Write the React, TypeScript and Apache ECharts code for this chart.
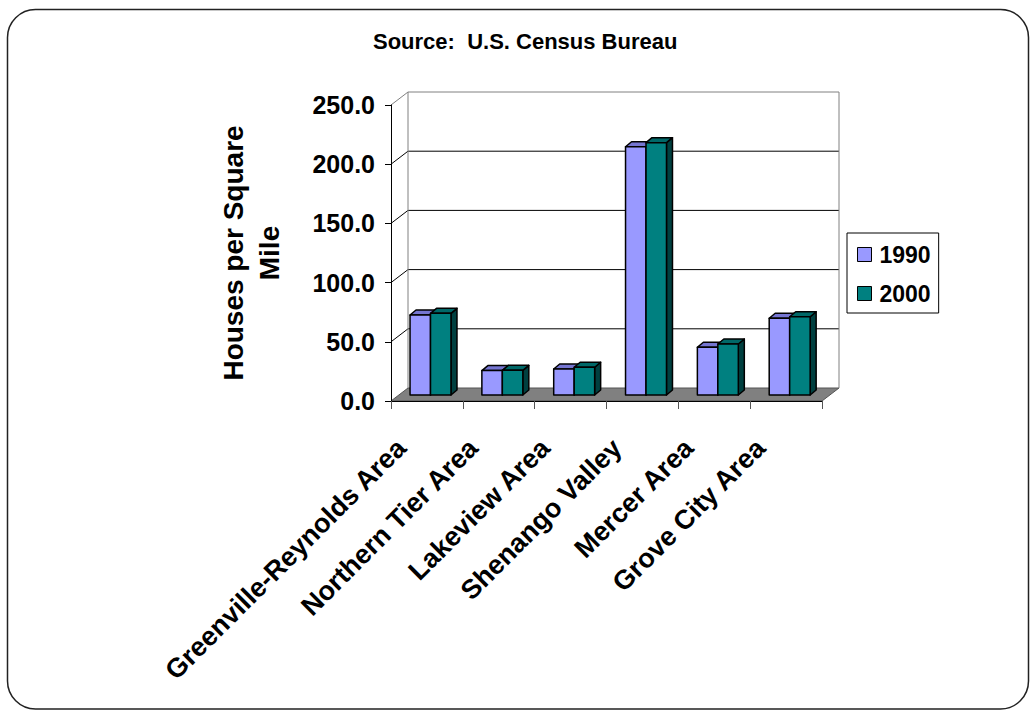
import React, { useEffect, useRef } from "react";
import * as echarts from "echarts";

// ---- data ----
const categories = [
  "Greenville-Reynolds Area",
  "Northern Tier Area",
  "Lakeview Area",
  "Shenango Valley",
  "Mercer Area",
  "Grove City Area",
];
const seriesNames = ["1990", "2000"];
const values1990 = [67.6, 20.6, 22.0, 209.7, 40.3, 64.8];
const values2000 = [69.0, 20.8, 23.4, 213.1, 43.1, 66.1];
const yTicks = [0, 50, 100, 150, 200, 250];
const titleText = "Source:  U.S. Census Bureau";
const yAxisTitle = "Houses per Square\nMile";

// ---- styling ----
const FONT = '"Liberation Sans", Arial, Helvetica, sans-serif';
const DX = 17; // depth offset of back wall
const DY = -13;
const BAR_SHIFT_Y = -6; // bars sit a little behind the front plane
const BAR_START = 0.265; // fraction of category width
const BAR_W = 0.285;
const BAR_DX = 6;
const BAR_DY = -5;
const faces = [
  { front: "#9999FF", top: "#7575D1", side: "#5F5FB0" },
  { front: "#008080", top: "#006868", side: "#004040" },
];
const yMin = yTicks[0];
const yMax = yTicks[yTicks.length - 1];
const yStep = yTicks[1] - yTicks[0];

function frameRenderItem(params: any, api: any) {
  const v = api.value(1);
  const cs = params.coordSys;
  const left = cs.x;
  const right = cs.x + cs.width;
  const y = api.coord([0, v])[1];
  const y0 = api.coord([0, yMin])[1];
  const children: any[] = [];
  if (v === yMin) {
    children.push({
      type: "polygon",
      shape: {
        points: [
          [left, y],
          [right, y],
          [right + DX, y + DY],
          [left + DX, y + DY],
        ],
      },
      style: { fill: "#808080", stroke: "#555555", lineWidth: 1 },
    });
  } else {
    const isTop = v === yMax;
    const c = isTop ? "#808080" : "#000000";
    children.push({
      type: "line",
      shape: { x1: left, y1: y, x2: left + DX, y2: y + DY },
      style: { stroke: c, lineWidth: 1 },
    });
    children.push({
      type: "line",
      shape: { x1: left + DX, y1: y + DY, x2: right + DX, y2: y + DY },
      style: { stroke: c, lineWidth: 1 },
    });
    if (isTop) {
      children.push({
        type: "line",
        shape: { x1: left + DX, y1: y + DY, x2: left + DX, y2: y0 + DY },
        style: { stroke: "#808080", lineWidth: 1 },
      });
      children.push({
        type: "line",
        shape: { x1: right + DX, y1: y + DY, x2: right + DX, y2: y0 + DY },
        style: { stroke: "#808080", lineWidth: 1 },
      });
    }
  }
  return { type: "group", children };
}

function makeBarRenderer(k: number) {
  return (params: any, api: any) => {
    const i = api.value(0);
    const v = api.value(1);
    const cx = api.coord([i, v])[0];
    const catW = api.size([1, 0])[0];
    const catLeft = cx - catW / 2;
    const x = catLeft + (BAR_START + k * BAR_W) * catW;
    const w = BAR_W * catW;
    const yb = api.coord([i, 0])[1] + BAR_SHIFT_Y;
    const yt = api.coord([i, v])[1] + BAR_SHIFT_Y;
    const f = faces[k];
    const stroke = { stroke: "#000", lineWidth: 1.5, lineJoin: "round" };
    return {
      type: "group",
      children: [
        {
          type: "polygon",
          shape: {
            points: [
              [x + w, yt],
              [x + w + BAR_DX, yt + BAR_DY],
              [x + w + BAR_DX, yb + BAR_DY],
              [x + w, yb],
            ],
          },
          style: { fill: f.side, ...stroke },
        },
        {
          type: "polygon",
          shape: {
            points: [
              [x, yt],
              [x + w, yt],
              [x + w + BAR_DX, yt + BAR_DY],
              [x + BAR_DX, yt + BAR_DY],
            ],
          },
          style: { fill: f.top, ...stroke },
        },
        {
          type: "rect",
          shape: { x, y: yt, width: w, height: yb - yt },
          style: { fill: f.front, ...stroke },
        },
      ],
    };
  };
}

export default function App() {
  const ref = useRef<HTMLDivElement>(null);
  useEffect(() => {
    const chart = echarts.init(ref.current!, null, { renderer: "svg" });
    const allValues = [values1990, values2000];
    chart.setOption({
      animation: false,
      backgroundColor: "#ffffff",
      textStyle: { fontFamily: FONT },
      title: {
        text: titleText,
        left: 373,
        top: 30,
        padding: 0,
        textStyle: { fontFamily: FONT, fontSize: 22, fontWeight: "bold", color: "#000" },
      },
      graphic: [
        {
          type: "rect",
          z: -10,
          shape: { x: 7.5, y: 9.5, width: 1021, height: 699.5, r: 28 },
          style: { fill: "none", stroke: "#222", lineWidth: 1.5 },
          silent: true,
        },
      ],
      legend: {
        orient: "vertical",
        left: 847,
        top: 233,
        padding: [10, 8, 8, 10],
        borderColor: "#000",
        borderWidth: 1,
        itemWidth: 14,
        itemHeight: 14,
        itemGap: 16,
        icon: "rect",
        textStyle: { fontFamily: FONT, fontSize: 23, fontWeight: "bold", color: "#000", padding: [0, 0, 0, 3] },
        data: seriesNames.map((n, k) => ({
          name: n,
          itemStyle: { color: faces[k].front, borderColor: "#000", borderWidth: 1 },
        })),
      },
      grid: { left: 391, top: 105, right: 210, bottom: 309, containLabel: false },
      xAxis: {
        type: "category",
        data: categories,
        z: 10,
        axisLine: { show: true, lineStyle: { color: "#000", width: 1 } },
        axisTick: { show: true, length: 8, lineStyle: { color: "#555" } },
        axisLabel: {
          interval: 0,
          rotate: 45,
          margin: 17,
          padding: [0, 36, 0, 0],
          fontFamily: FONT,
          fontSize: 27,
          fontWeight: "bold",
          color: "#000",
        },
        splitLine: { show: false },
      },
      yAxis: {
        type: "value",
        min: yMin,
        max: yMax,
        interval: yStep,
        z: 10,
        name: yAxisTitle,
        nameLocation: "middle",
        nameRotate: 90,
        nameGap: 104,
        nameTextStyle: {
          fontFamily: FONT,
          fontSize: 28,
          fontWeight: "bold",
          color: "#000",
          lineHeight: 36,
          align: "center",
        },
        axisLine: { show: true, lineStyle: { color: "#000", width: 1 } },
        axisTick: { show: true, length: 6, lineStyle: { color: "#000" } },
        axisLabel: {
          margin: 16,
          padding: [3, 0, 0, 0],
          fontFamily: FONT,
          fontSize: 25,
          fontWeight: "bold",
          color: "#000",
          formatter: (v: number) => v.toFixed(1),
        },
        splitLine: { show: false },
      },
      series: [
        {
          name: "frame",
          type: "custom",
          silent: true,
          z: 1,
          renderItem: frameRenderItem,
          encode: { x: 0, y: 1 },
          data: yTicks.map((v) => [0, v]),
        },
        ...seriesNames.map((n, k) => ({
          name: n,
          type: "custom",
          z: 2,
          itemStyle: { color: faces[k].front, borderColor: "#000", borderWidth: 1 },
          renderItem: makeBarRenderer(k),
          encode: { x: 0, y: 1 },
          data: allValues[k].map((v, i) => [i, v]),
        })),
      ],
    });
    return () => chart.dispose();
  }, []);
  return (
    <div
      ref={ref}
      style={{ position: "fixed", left: 0, top: 0, width: 1032, height: 710, background: "#fff" }}
    />
  );
}
